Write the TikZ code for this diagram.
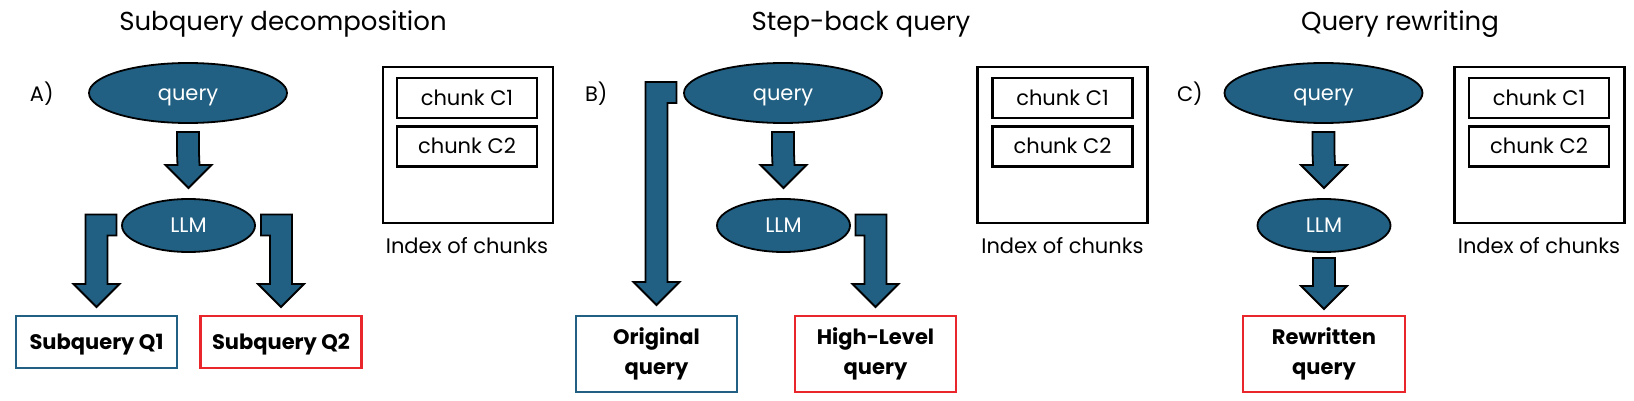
\documentclass[tikz,border=0pt]{standalone}
\usepackage{fontspec}
\setmainfont{Poppins}
\usetikzlibrary{shapes.geometric,calc}
\definecolor{qblue}{HTML}{216082}
\definecolor{qred}{HTML}{E8262C}
\tikzset{
 ell/.style={ellipse, draw=black, line width=1.8pt, fill=qblue, text=white, inner sep=0pt, outer sep=0pt,
   font=\fontsize{21}{25}\selectfont, text height=14.5pt, text depth=0pt},
 outbox/.style={rectangle, line width=2.5pt, fill=white, inner sep=0pt, outer sep=0pt, align=center,
   font=\bfseries\fontsize{21}{30}\selectfont},
 bluebox/.style={outbox, draw=qblue},
 redbox/.style={outbox, draw=qred, line width=2.8pt},
 oneline/.style={text height=14.5pt, text depth=0pt},
 idxbox/.style={rectangle, draw=black, line width=2.6pt, minimum width=170pt, minimum height=156pt, inner sep=0pt, outer sep=0pt},
 chunkbox/.style={rectangle, draw=black, line width=2.6pt, minimum width=140pt, minimum height=40pt, inner sep=0pt, outer sep=0pt,
   font=\fontsize{21}{25}\selectfont, text height=14.5pt, text depth=0pt},
 plain/.style={font=\fontsize{21}{25}\selectfont, inner sep=0pt, outer sep=0pt},
 title/.style={font=\fontsize{26}{30}\selectfont, inner sep=0pt, outer sep=0pt},
 barrow/.style={draw=black, line width=1.8pt, fill=qblue, line join=miter},
}
% #1 top centre, #2 tip, #3 tab to the left, #4 tab to the right
\newcommand{\blockarrow}[4]{%
 \draw[barrow] ($(#1)+(-11-#3,0)$) -- ($(#1)+(11+#4,0)$) -- ($(#1)+(11+#4,21)$) -- ($(#1)+(11,21)$)
   -- ($(#2)+(11,-23)$) -- ($(#2)+(23,-23)$) -- (#2) -- ($(#2)+(-23,-23)$) -- ($(#2)+(-11,-23)$)
   -- ($(#1)+(-11,21)$) -- ($(#1)+(-11-#3,21)$) -- cycle;}
\begin{document}
\begin{tikzpicture}[x=1pt,y=-1pt]
\useasboundingbox (0,0) rectangle (1634,401);

% ---------- Panel A ----------
\node[title, anchor=base] (tA) at (283,31) {Subquery decomposition};
\node[plain, anchor=base west] (lA) at (30,102) {A)};
\node[ell, minimum width=198pt, minimum height=60pt] (qA) at (188,93) {query};
\node[ell, minimum width=133pt, minimum height=53pt] (mA) at (188.5,225.5) {LLM};
\node[bluebox, oneline, minimum width=161pt, minimum height=52pt] (s1) at (96.5,342) {Subquery Q1};
\node[redbox, oneline, minimum width=161pt, minimum height=52pt] (s2) at (281,342) {Subquery Q2};
\node[idxbox] (iA) at (468,145) {};
\node[chunkbox] (cA1) at (467,98) {chunk C1};
\node[chunkbox] (cA2) at (467,146.5) {chunk C2};
\node[plain, anchor=base] (xA) at (467,253) {Index of chunks};

\coordinate (a1s) at ($(qA.south)+(0,9)$);
\coordinate (a1e) at ($(mA.north)+(0,-11)$);
\blockarrow{a1s}{a1e}{0}{0}
\coordinate (a2s) at ($(s1.north |- mA.center)+(0,-11)$);
\coordinate (a2e) at ($(s1.north)+(0,-9)$);
\blockarrow{a2s}{a2e}{0}{9}
\coordinate (a3s) at ($(s2.north |- mA.center)+(0,-11)$);
\coordinate (a3e) at ($(s2.north)+(0,-9)$);
\blockarrow{a3s}{a3e}{9}{0}

% ---------- Panel B ----------
\node[title, anchor=base] (tB) at (861,31) {Step-back query};
\node[plain, anchor=base west] (lB) at (585,102) {B)};
\node[ell, minimum width=198pt, minimum height=60pt] (qB) at (783,93) {query};
\node[ell, minimum width=133pt, minimum height=53pt] (mB) at (783.5,225.5) {LLM};
\node[bluebox, minimum width=161pt, minimum height=76pt] (oB) at (656.5,354) {Original\\query};
\node[redbox, minimum width=161pt, minimum height=76pt] (hB) at (875.5,354) {High-Level\\query};
\node[idxbox] (iB) at (1062.5,145) {};
\node[chunkbox] (cB1) at (1062.5,98) {chunk C1};
\node[chunkbox] (cB2) at (1062.5,146.5) {chunk C2};
\node[plain, anchor=base] (xB) at (1062.5,253) {Index of chunks};

\coordinate (b1s) at ($(qB.south)+(0,9)$);
\coordinate (b1e) at ($(mB.north)+(0,-11)$);
\blockarrow{b1s}{b1e}{0}{0}
\coordinate (b2s) at ($(oB.north |- qB.center)+(0,-11)$);
\coordinate (b2e) at ($(oB.north)+(0,-11)$);
\blockarrow{b2s}{b2e}{0}{9}
\coordinate (b3s) at ($(hB.north |- mB.center)+(0,-11)$);
\coordinate (b3e) at ($(hB.north)+(0,-9)$);
\blockarrow{b3s}{b3e}{9}{0}

% ---------- Panel C ----------
\node[title, anchor=base] (tC) at (1400,31) {Query rewriting};
\node[plain, anchor=base west] (lC) at (1177,102) {C)};
\node[ell, minimum width=198pt, minimum height=60pt] (qC) at (1323.5,93) {query};
\node[ell, minimum width=133pt, minimum height=53pt] (mC) at (1324,225.5) {LLM};
\node[redbox, minimum width=162pt, minimum height=76pt] (rC) at (1324,354) {Rewritten\\query};
\node[idxbox] (iC) at (1539.5,145) {};
\node[chunkbox] (cC1) at (1539,98) {chunk C1};
\node[chunkbox] (cC2) at (1539,146.5) {chunk C2};
\node[plain, anchor=base] (xC) at (1539,253) {Index of chunks};

\coordinate (c1s) at ($(qC.south)+(0,9)$);
\coordinate (c1e) at ($(mC.north)+(0,-11)$);
\blockarrow{c1s}{c1e}{0}{0}
\coordinate (c2s) at ($(mC.south)+(0,6)$);
\coordinate (c2e) at ($(rC.north)+(0,-7)$);
\blockarrow{c2s}{c2e}{0}{0}
\end{tikzpicture}
\end{document}
